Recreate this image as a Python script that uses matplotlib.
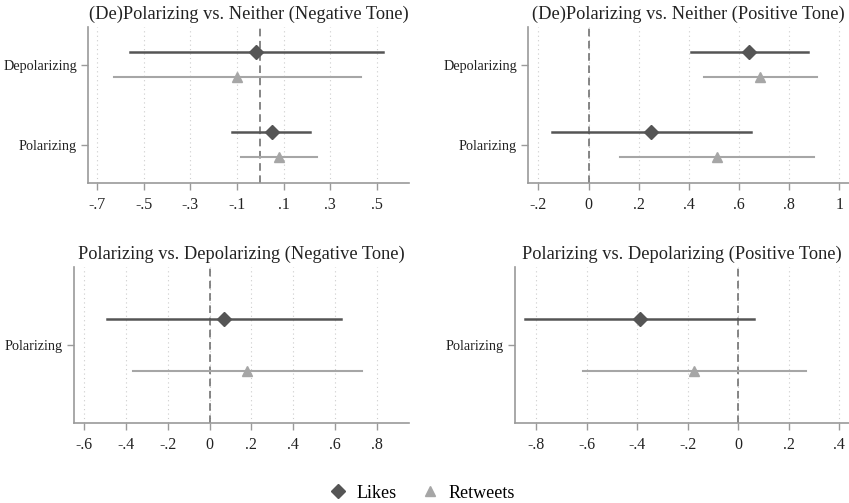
import matplotlib
matplotlib.use("Agg")
import matplotlib.pyplot as plt
from matplotlib.lines import Line2D

plt.rcParams['font.family'] = ['Liberation Serif', 'DejaVu Serif']

# ---- data ----
titles = ["(De)Polarizing vs. Neither (Negative Tone)",
          "(De)Polarizing vs. Neither (Positive Tone)",
          "Polarizing vs. Depolarizing (Negative Tone)",
          "Polarizing vs. Depolarizing (Positive Tone)"]
categories = [["Depolarizing", "Polarizing"],
              ["Depolarizing", "Polarizing"],
              ["Polarizing"],
              ["Polarizing"]]
likes_est = [[-0.02, 0.049], [0.64, 0.251], [0.071], [-0.388]]
likes_lo = [[-0.56, -0.12], [0.409, -0.144], [-0.492], [-0.843]]
likes_hi = [[0.526, 0.215], [0.874, 0.650], [0.627], [0.064]]
rt_est = [[-0.10, 0.079], [0.683, 0.511], [0.181], [-0.174]]
rt_lo = [[-0.628, -0.083], [0.459, 0.126], [-0.364], [-0.615]]
rt_hi = [[0.432, 0.243], [0.911, 0.898], [0.728], [0.268]]
xticks = [[-0.7, -0.5, -0.3, -0.1, 0.1, 0.3, 0.5],
          [-0.2, 0, 0.2, 0.4, 0.6, 0.8, 1.0],
          [-0.6, -0.4, -0.2, 0, 0.2, 0.4, 0.6, 0.8],
          [-0.8, -0.6, -0.4, -0.2, 0, 0.2, 0.4]]
xticklabels = [["-.7", "-.5", "-.3", "-.1", ".1", ".3", ".5"],
               ["-.2", "0", ".2", ".4", ".6", ".8", "1"],
               ["-.6", "-.4", "-.2", "0", ".2", ".4", ".6", ".8"],
               ["-.8", "-.6", "-.4", "-.2", "0", ".2", ".4"]]
xlims = [(-0.74, 0.639), (-0.2415, 1.039), (-0.648, 0.954), (-0.883, 0.438)]
series_names = ["Likes", "Retweets"]

# ---- layout (pixels) ----
W, H = 849, 503
boxes = [(88, 409, 27, 183), (528, 849, 27, 183),
         (74, 409, 267, 423), (515, 849, 267, 423)]

likes_col = "#555555"
rt_col = "#a6a6a6"
spine_col = "#9a9a9a"

fig = plt.figure(figsize=(W / 100, H / 100), dpi=100)
for i in range(4):
    l, r, t, b = boxes[i]
    ax = fig.add_axes([l / W, 1 - b / H, (r - l) / W, (b - t) / H])
    n = len(categories[i])
    ypos = list(range(n - 1, -1, -1))
    off = 0.16
    for j in range(n):
        y = ypos[j]
        ax.plot([likes_lo[i][j], likes_hi[i][j]], [y + off, y + off], color=likes_col, lw=1.8, zorder=3)
        ax.plot(likes_est[i][j], y + off, marker="D", color=likes_col, ms=7, zorder=4)
        ax.plot([rt_lo[i][j], rt_hi[i][j]], [y - off, y - off], color=rt_col, lw=1.5, zorder=3)
        ax.plot(rt_est[i][j], y - off, marker="^", color=rt_col, ms=7, zorder=4)
    ax.axvline(0, color="#666666", lw=1.1, ls=(0, (5, 3)), zorder=2)
    ax.set_xlim(*xlims[i])
    if n == 2:
        ax.set_ylim(-0.48, 1.47)
    else:
        ax.set_ylim(-0.48, 0.48)
    ax.set_yticks(ypos)
    ax.set_yticklabels(categories[i], fontsize=10.2)
    ax.set_xticks(xticks[i])
    ax.set_xticklabels(xticklabels[i], fontsize=11.5)
    for x in xticks[i]:
        ax.axvline(x, color="#cccccc", lw=0.8, ls=(0, (1, 3)), zorder=1)
    for s in ["top", "right"]:
        ax.spines[s].set_visible(False)
    for s in ["left", "bottom"]:
        ax.spines[s].set_color(spine_col)
        ax.spines[s].set_linewidth(1.2)
    ax.tick_params(axis="both", colors=spine_col, labelcolor="#222222", length=5, width=1)
    ax.tick_params(axis="y", pad=3)
    ax.tick_params(axis="x", pad=5)
    ax.set_title(titles[i], fontsize=13.2, color="#222222", pad=6)

handles = [Line2D([], [], color=likes_col, marker="D", ls="none", ms=7),
           Line2D([], [], color=rt_col, marker="^", ls="none", ms=7)]
fig.legend(handles, series_names, loc="center", bbox_to_anchor=(0.497, 1 - 493 / H),
           ncol=2, frameon=False, fontsize=13, handlelength=1.0, handletextpad=0.5,
           columnspacing=1.4)

fig.savefig("out.png", dpi=100)
